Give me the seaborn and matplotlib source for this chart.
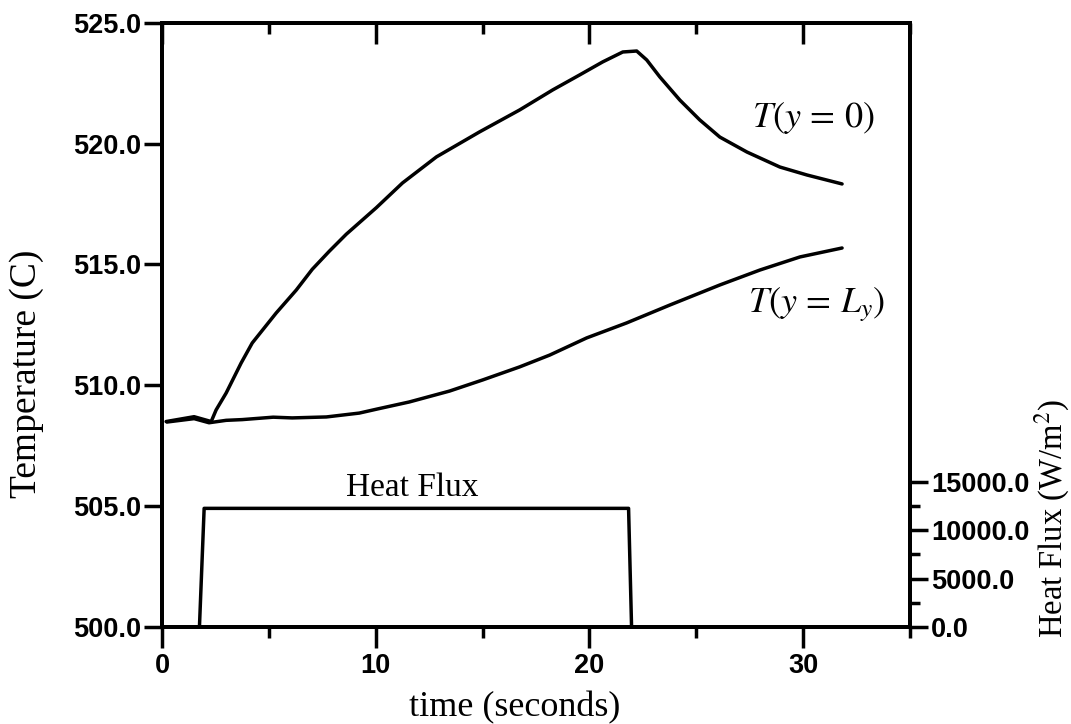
import numpy as np
import pandas as pd
import matplotlib
matplotlib.use("Agg")
import matplotlib.pyplot as plt
from matplotlib.ticker import FormatStrFormatter, MultipleLocator, FixedLocator
from matplotlib.font_manager import FontProperties
import seaborn as sns

# ---- data ----
t_surface = [0.19, 1.5, 2.30, 2.53, 3.00, 3.70, 4.22, 5.34, 6.28, 7.03, 7.83, 8.62, 10.03,
             11.25, 12.84, 14.85, 16.73, 18.28, 19.54, 20.62, 21.56, 22.21, 22.68, 23.29,
             24.23, 25.16, 26.10, 27.37, 28.91, 30.18, 31.82]
T_surface = [508.50, 508.70, 508.50, 508.98, 509.68, 510.92, 511.75, 512.99, 513.94, 514.80,
             515.55, 516.25, 517.35, 518.37, 519.45, 520.48, 521.39, 522.22, 522.84, 523.38,
             523.79, 523.83, 523.46, 522.76, 521.80, 520.98, 520.27, 519.65, 519.03, 518.70,
             518.33]

t_back = [0.23, 1.5, 2.20, 3.00, 3.75, 5.2, 6.09, 7.69, 9.23, 10.08, 11.57, 13.45, 15.00,
          16.73, 18.14, 19.87, 21.74, 23.76, 26.10, 27.98, 29.85, 31.82]
T_back = [508.48, 508.62, 508.45, 508.55, 508.58, 508.68, 508.65, 508.69, 508.85, 509.02,
          509.31, 509.76, 510.22, 510.76, 511.25, 511.96, 512.58, 513.32, 514.15, 514.77,
          515.31, 515.68]

t_flux = [0.0, 1.75, 1.97, 21.83, 21.97, 32.0]
q_flux = [0.0, 0.0, 12250.0, 12250.0, 0.0, 0.0]

x_ticks = [0, 10, 20, 30]
temp_ticks = [500, 505, 510, 515, 520, 525]
flux_ticks = [0, 5000, 10000, 15000]
flux_minor = [2500, 7500, 12500]

# ---- style ----
sns.set_style("ticks")
plt.rcParams["font.family"] = ["Liberation Serif", "DejaVu Serif"]
plt.rcParams["mathtext.fontset"] = "stix"
for key in ["text.color", "axes.labelcolor", "xtick.color", "ytick.color", "axes.edgecolor"]:
    plt.rcParams[key] = "black"

fig = plt.figure(figsize=(10.71, 7.24), dpi=100)
ax = fig.add_axes([0.1513, 0.134, 0.6984, 0.8346])

df_s = pd.DataFrame({"t": t_surface, "T": T_surface})
df_b = pd.DataFrame({"t": t_back, "T": T_back})
sns.lineplot(data=df_s, x="t", y="T", ax=ax, color="black", lw=2.5, sort=False)
sns.lineplot(data=df_b, x="t", y="T", ax=ax, color="black", lw=2.5, sort=False)

ax.set_xlim(0, 35)
ax.set_ylim(500, 525)
ax.set_xticks(x_ticks)
ax.xaxis.set_minor_locator(MultipleLocator(5))
ax.set_yticks(temp_ticks)
ax.yaxis.set_major_formatter(FormatStrFormatter("%.1f"))

tick_fp = FontProperties(family="Liberation Sans", weight="bold", size=19.5)
for lab in ax.get_xticklabels() + ax.get_yticklabels():
    lab.set_fontproperties(tick_fp)

ax.tick_params(axis="x", which="major", direction="out", length=15, width=2.5, pad=4)
ax.tick_params(axis="x", which="minor", direction="out", length=8, width=2.5)
ax.tick_params(axis="y", which="major", direction="out", length=13, width=2.5, pad=2)

for sp in ax.spines.values():
    sp.set_linewidth(2.8)
    sp.set_color("black")
    sp.set_visible(True)

# top ticks pointing inward
top = ax.secondary_xaxis("top")
top.set_xticks(x_ticks)
top.xaxis.set_minor_locator(MultipleLocator(5))
top.tick_params(which="major", direction="in", length=15, width=2.5, labeltop=False)
top.tick_params(which="minor", direction="in", length=8, width=2.5)
top.spines["top"].set_linewidth(2.8)

ax.set_xlabel("time (seconds)", fontsize=26)
ax.xaxis.set_label_coords(0.472, -0.106)
ax.set_ylabel("Temperature (C)", fontsize=27)
ax.yaxis.set_label_coords(-0.158, 0.419)

# heat flux axis
ax2 = ax.twinx()
df_q = pd.DataFrame({"t": t_flux, "q": q_flux})
sns.lineplot(data=df_q, x="t", y="q", ax=ax2, color="black", lw=2.5, sort=False)
ax2.set_ylim(0, 62400)
ax2.set_yticks(flux_ticks)
ax2.yaxis.set_minor_locator(FixedLocator(flux_minor))
ax2.yaxis.set_major_formatter(FormatStrFormatter("%.1f"))
for lab in ax2.get_yticklabels():
    lab.set_fontproperties(tick_fp)
ax2.tick_params(axis="y", which="major", direction="out", length=13, width=2.5, pad=2)
ax2.tick_params(axis="y", which="minor", direction="out", length=7, width=2.5)
for sp in ax2.spines.values():
    sp.set_linewidth(2.8)
ax2.set_ylabel("Heat Flux (W/m$^2$)", fontsize=23.5)
ax2.yaxis.set_label_coords(1.164, 0.18)
ax2.set_xlabel("")

# annotations
ax.text(27.6, 521.05, r"$T(y\,=\,0)$", fontsize=26, va="center", ha="left")
ax.text(27.4, 513.35, r"$T(y\,=\,L_y)$", fontsize=26, va="center", ha="left")
ax.text(8.62, 505.75, "Heat Flux", fontsize=24, va="center", ha="left")

fig.savefig("out.png", dpi=100)
